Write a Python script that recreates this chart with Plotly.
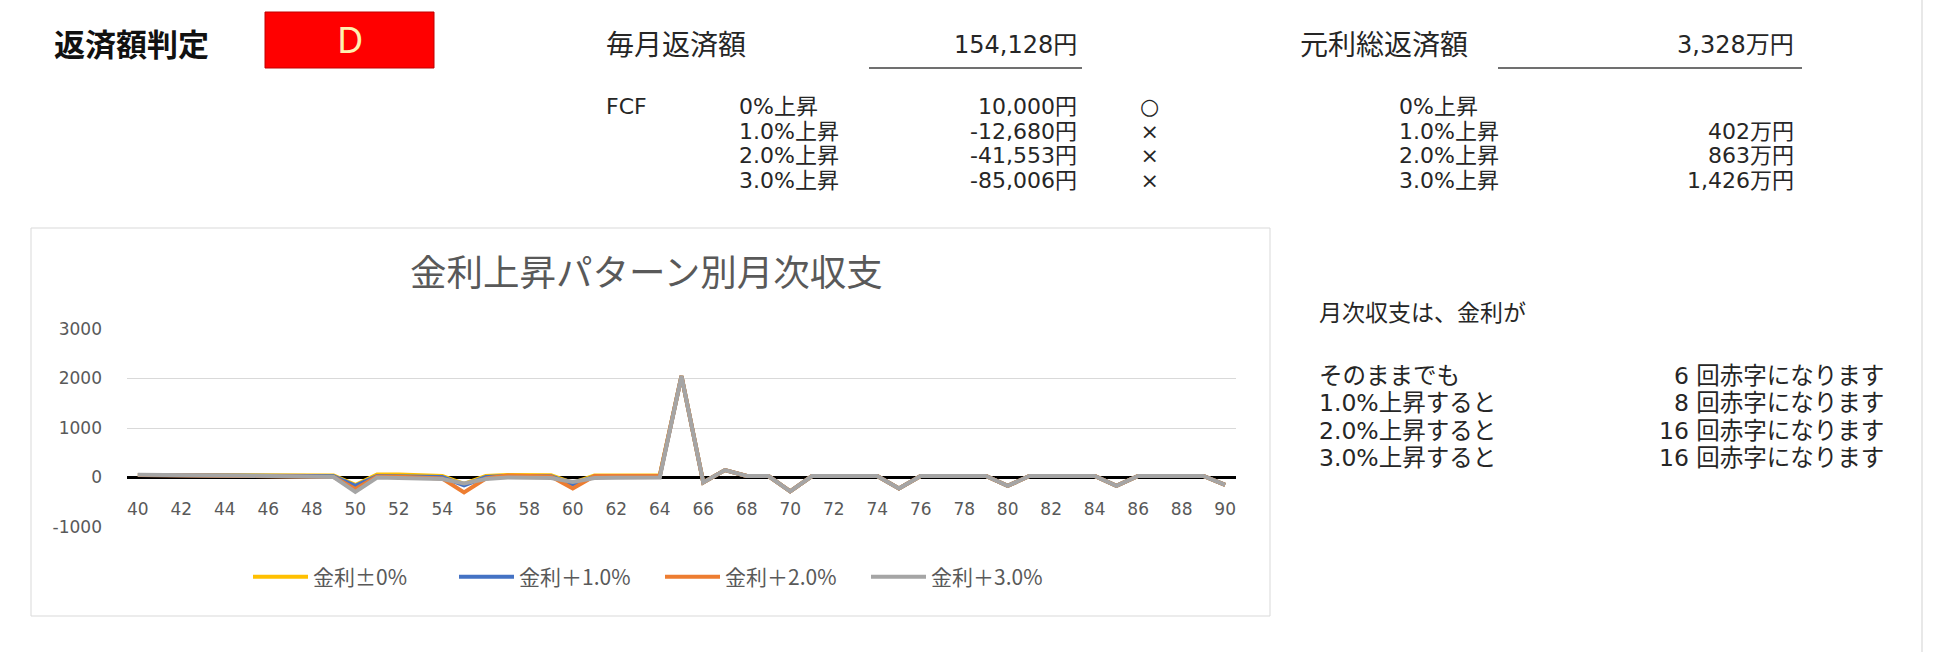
import plotly.graph_objects as go

W, H = 1933, 652

# Ages on the category axis and annual balance per scenario (万円)
years = list(range(40, 91))

rate_0 = [50, 50, 50, 50, 50, 45, 45, 45, 45, 40,
          -150, 60, 60, 50, 30, -130, 30, 50, 50, 45,
          -110, 40, 40, 40, 40, 2050, -100, 150, 30, 30,
          -280, 30, 30, 30, 30, -220, 30, 30, 30, 30,
          -170, 30, 30, 30, 30, -170, 30, 30, 30, 30, -150]
rate_1 = [50, 50, 50, 50, 50, 35, 35, 30, 30, 25,
          -170, 30, 30, 25, 10, -160, 10, 30, 30, 25,
          -140, 20, 20, 20, 20, 2050, -100, 150, 30, 30,
          -280, 30, 30, 30, 30, -220, 30, 30, 30, 30,
          -170, 30, 30, 30, 30, -170, 30, 30, 30, 30, -150]
rate_2 = [50, 50, 50, 50, 50, 30, 25, 20, 15, 10,
          -230, 20, 15, 5, -20, -300, -20, 40, 40, 20,
          -220, 30, 30, 30, 30, 2050, -100, 150, 30, 30,
          -280, 30, 30, 30, 30, -220, 30, 30, 30, 30,
          -170, 30, 30, 30, 30, -170, 30, 30, 30, 30, -150]
rate_3 = [55, 55, 55, 55, 55, 35, 30, 25, 20, 10,
          -290, 0, -10, -20, -30, -120, -30, 0, 0, -10,
          -90, -10, -5, 0, 0, 2050, -100, 150, 30, 30,
          -280, 30, 30, 30, 30, -220, 30, 30, 30, 30,
          -170, 30, 30, 30, 30, -170, 30, 30, 30, 30, -150]

series_names = ["金利±0%", "金利＋1.0%", "金利＋2.0%", "金利＋3.0%"]
series_values = [rate_0, rate_1, rate_2, rate_3]
series_colors = ["#FFC000", "#4472C4", "#ED7D31", "#A5A5A5"]

x_tick_vals = list(range(40, 91, 2))
x_tick_text = [str(v) for v in x_tick_vals]
y_tick_vals = [-1000, 0, 1000, 2000, 3000]
y_tick_text = ["-1000", "0", "1000", "2000", "3000"]

# Summary table figures
monthly_payment = "154,128円"
total_payment = "3,328万円"
fcf_labels = ["0%上昇", "1.0%上昇", "2.0%上昇", "3.0%上昇"]
fcf_values = ["10,000円", "-12,680円", "-41,553円", "-85,006円"]
fcf_marks = ["○", "×", "×", "×"]
extra_payment = ["", "402万円", "863万円", "1,426万円"]
deficit_labels = ["そのままでも", "1.0%上昇すると", "2.0%上昇すると", "3.0%上昇すると"]
deficit_counts = [6, 8, 16, 16]

JP = "DejaVu Sans, Noto Sans CJK JP"
CJK = "Noto Sans CJK JP"
TXT = "#262626"
GRAY = "#595959"


def px(x):
    return x / W


def py(y):
    return 1 - y / H


def label(text, x, y, anchor="left", size=22, color=TXT, family=JP,
          weight="normal", yanchor="middle"):
    return dict(text=text, x=px(x), y=py(y), xref="paper", yref="paper",
                xanchor=anchor, yanchor=yanchor, align=anchor,
                showarrow=False,
                font=dict(family=family, size=size, color=color, weight=weight))


def column(lines, x, y_top, anchor, pitch_size, glyph_size):
    # one multi-line block per table column: the line pitch follows the base
    # font size (1.3 x), the glyphs are drawn at glyph_size
    body = "<br>".join(
        f'<span style="font-size:{glyph_size}px">{l if l else chr(160)}</span>'
        for l in lines)
    return label(body, x, y_top, anchor=anchor, size=pitch_size, yanchor="top")


fig = go.Figure()
for name, vals, col in zip(series_names, series_values, series_colors):
    fig.add_trace(go.Scatter(x=years, y=vals, name=name, mode="lines",
                             line=dict(color=col, width=4)))

shapes = []
annotations = []

# chart panel
shapes.append(dict(type="rect", xref="paper", yref="paper", layer="below",
                   x0=px(31), x1=px(1270), y0=py(616), y1=py(228),
                   line=dict(color="#D9D9D9", width=1), fillcolor="white"))
# right edge rule
shapes.append(dict(type="line", xref="paper", yref="paper", layer="below",
                   x0=px(1922), x1=px(1922), y0=0, y1=1,
                   line=dict(color="#E8E8E8", width=2)))

# judgement badge
shapes.append(dict(type="rect", xref="paper", yref="paper",
                   x0=px(265), x1=px(434), y0=py(68), y1=py(12),
                   line=dict(color="#C00000", width=1), fillcolor="#FF0000"))
annotations.append(label("返済額判定", 52, 43, size=31, color="#111111",
                         family=CJK, weight="bold"))
annotations.append(label("D", 350, 40, anchor="center", size=36,
                         color="#FFF0B0", family="Noto Sans"))

# header rows with underlines
annotations.append(label("毎月返済額", 604, 45, size=28))
annotations.append(label(monthly_payment, 1079, 45, anchor="right", size=24))
annotations.append(label("元利総返済額", 1298, 45, size=28))
annotations.append(label(total_payment, 1796, 45, anchor="right", size=24))
for x0, x1 in [(869, 1082), (1498, 1802)]:
    shapes.append(dict(type="line", xref="paper", yref="paper",
                       x0=px(x0), x1=px(x1), y0=py(68), y1=py(68),
                       line=dict(color="#404040", width=1.5)))

# FCF table
top = 92
annotations.append(column(["FCF"], 604, top, "left", 19, 22))
annotations.append(column(fcf_labels, 737, top, "left", 19, 22))
annotations.append(column(fcf_values, 1079, top, "right", 19, 22))
annotations.append(column(fcf_marks, 1149, top, "center", 19, 22))
annotations.append(column(fcf_labels, 1397, top, "left", 19, 22))
annotations.append(column(extra_payment, 1796, top, "right", 19, 22))

# deficit summary
annotations.append(label("月次収支は、金利が", 1317, 313, size=23))
dtop = 360
annotations.append(column(deficit_labels, 1317, dtop, "left", 21, 23.5))
annotations.append(column([f"{n} 回赤字になります" for n in deficit_counts],
                          1886, dtop, "right", 21, 23.5))

# chart title
annotations.append(label("金利上昇パターン別月次収支", 646, 271, anchor="center",
                         size=36.5, color=GRAY, family=CJK))

fig.update_layout(
    width=W, height=H,
    margin=dict(l=0, r=0, t=0, b=0, pad=0, autoexpand=False),
    paper_bgcolor="white", plot_bgcolor="rgba(0,0,0,0)",
    shapes=shapes, annotations=annotations,
    showlegend=True,
    legend=dict(orientation="h", x=px(660), xanchor="center", y=py(577),
                yanchor="middle", font=dict(family=CJK, size=21, color=GRAY),
                itemwidth=55, entrywidth=136, entrywidthmode="pixels",
                bgcolor="rgba(0,0,0,0)"),
    xaxis=dict(domain=[px(127), px(1236)], range=[39.5, 90.5], automargin=False,
               tickmode="array", tickvals=x_tick_vals, ticktext=x_tick_text,
               anchor="free", position=py(477), showgrid=False, zeroline=False,
               showline=False, ticks="", ticklabelstandoff=20,
               tickfont=dict(family="DejaVu Sans", size=17, color=GRAY)),
    yaxis=dict(domain=[py(527), py(329)], range=[-1000, 3000], automargin=False,
               tickmode="array", tickvals=y_tick_vals, ticktext=y_tick_text,
               showgrid=True, gridcolor="#D9D9D9", gridwidth=1,
               zeroline=True, zerolinecolor="#000000", zerolinewidth=3,
               showline=False, ticks="", ticklabelstandoff=24,
               tickfont=dict(family="DejaVu Sans", size=17, color=GRAY)),
)

fig.write_html("out.html")
